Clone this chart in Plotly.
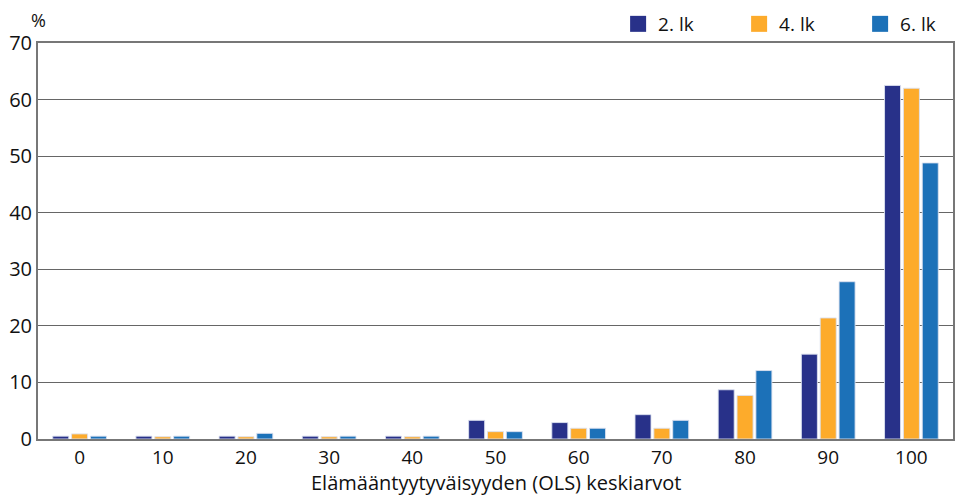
import plotly.graph_objects as go

categories = ["0", "10", "20", "30", "40", "50", "60", "70", "80", "90", "100"]
lk2 = [0.5, 0.5, 0.5, 0.5, 0.5, 3.3, 2.9, 4.3, 8.7, 15.0, 62.5]
lk4 = [0.9, 0.4, 0.4, 0.4, 0.4, 1.3, 1.9, 1.9, 7.7, 21.4, 62.0]
lk6 = [0.5, 0.5, 1.0, 0.5, 0.5, 1.3, 1.9, 3.3, 12.1, 27.8, 48.8]
series_names = ["2. lk", "4. lk", "6. lk"]
colors = ["#283189", "#FDAB2B", "#1C71B8"]
yticks = [0, 10, 20, 30, 40, 50, 60, 70]

FONT = "Open Sans"
fig = go.Figure()
for name, vals, col in zip(series_names, [lk2, lk4, lk6], colors):
    fig.add_trace(go.Bar(
        x=categories, y=vals, name=name, showlegend=False, legendgroup=name,
        marker=dict(color=col, line=dict(color="rgba(220,225,240,0.9)", width=1)),
    ))
# legend entries with larger square swatches
for name, col in zip(series_names, colors):
    fig.add_trace(go.Scatter(
        x=[None], y=[None], mode="markers", name=name, legendgroup=name,
        marker=dict(symbol="square", size=28, color=col), hoverinfo="skip",
    ))

fig.update_layout(
    width=956, height=496,
    margin=dict(l=38, r=3, t=43, b=57, autoexpand=False),
    plot_bgcolor="white", paper_bgcolor="white",
    barmode="group", bargap=0.32, bargroupgap=0.15,
    font=dict(family=FONT, size=19, color="#111111"),
    showlegend=True,
    legend=dict(orientation="h", x=0.634, xanchor="left", y=1.0, yanchor="bottom",
                font=dict(size=19), entrywidth=76, traceorder="normal",
                bgcolor="rgba(0,0,0,0)"),
    xaxis=dict(
        type="category", showline=True, linecolor="#777777", linewidth=2, mirror=True,
        ticks="", tickfont=dict(size=19), automargin=False,
    ),
    yaxis=dict(
        range=[0, 70], tickvals=yticks, showgrid=True, gridcolor="#666666", gridwidth=1,
        showline=True, linecolor="#777777", linewidth=2, mirror=True,
        ticks="", tickfont=dict(size=20), zeroline=False, automargin=False,
    ),
    annotations=[
        dict(text="%", xref="paper", yref="paper", x=0, y=1, xanchor="center",
             yanchor="middle", yshift=23, showarrow=False, font=dict(size=18)),
        dict(text="Elämääntyytyväisyyden (OLS) keskiarvot", xref="paper", yref="paper",
             x=0.5, y=0, xanchor="center", yanchor="middle", yshift=-43,
             showarrow=False, font=dict(size=20)),
    ],
)

fig.write_html("out.html", config={"displayModeBar": False},
               post_script="document.body.style.margin='0';")
